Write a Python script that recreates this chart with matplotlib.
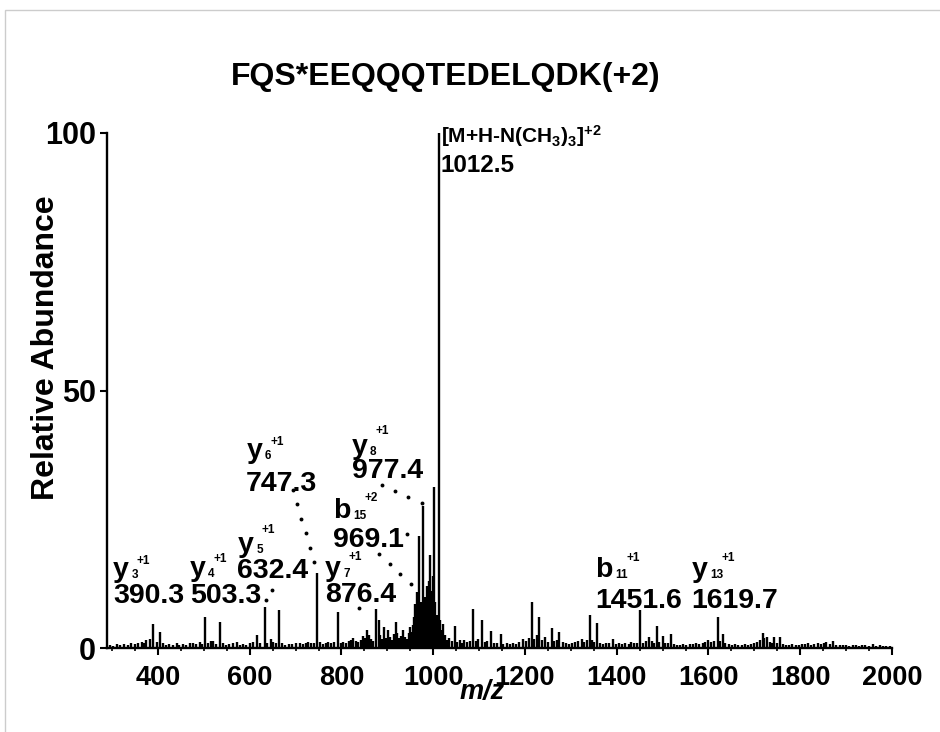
import numpy as np
import matplotlib
matplotlib.use("Agg")
import matplotlib.pyplot as plt
from matplotlib import font_manager
from matplotlib.patches import Rectangle
from matplotlib.ticker import MultipleLocator

plt.rcParams["font.family"] = ["Liberation Sans", "DejaVu Sans"]
plt.rcParams["font.weight"] = "bold"

# narrow face for the precursor annotation, when it is installed
installed = {f.name for f in font_manager.fontManager.ttflist}
narrow = "Liberation Sans Narrow" if "Liberation Sans Narrow" in installed else "Liberation Sans"
plt.rcParams["mathtext.fontset"] = "custom"
plt.rcParams["mathtext.rm"] = narrow + ":bold"
plt.rcParams["mathtext.it"] = narrow + ":bold"
plt.rcParams["mathtext.bf"] = narrow + ":bold"

title = "FQS*EEQQQTEDELQDK(+2)"

# centroided MS/MS peaks: m/z and relative abundance (%)
mz = [
    295, 302, 310, 318, 326, 334, 341, 349, 356, 364.5, 370, 375, 382.6, 390.3,
    397, 404, 411, 418, 425, 432, 440.6, 447, 455, 462, 469, 476, 483, 491.5,
    497, 503.3, 510, 515, 520.6, 527, 535, 542, 549, 556, 563, 571.5, 578, 585,
    592, 600, 607, 615, 622, 632.4, 638, 645.6, 651, 657, 664.4, 671, 678, 685,
    692, 700, 709.5, 716, 722, 727, 734, 741, 747.3, 754, 760, 766, 771, 778,
    784, 791.6, 798, 804, 810, 816, 821, 825.7, 831, 836, 842, 847, 851, 855,
    859, 864, 869, 876.4, 881, 885, 889, 893, 897, 902, 906, 910, 914, 918,
    922, 926, 930, 935, 939, 943, 947, 950, 953, 956, 958, 961, 964, 966.5,
    969.1, 971.5, 974, 977.4, 980, 983, 986, 989, 991, 993, 996, 999, 1002,
    1005, 1008, 1010, 1012.5, 1015, 1018, 1022, 1026, 1030, 1035, 1040, 1047,
    1052, 1058, 1062, 1067, 1073, 1080, 1087, 1093, 1098, 1105.5, 1112, 1118,
    1127, 1133, 1140, 1147, 1153, 1160, 1167, 1174, 1181, 1188, 1196, 1203,
    1208, 1214.5, 1220, 1226, 1231, 1237, 1243.5, 1250, 1258, 1264, 1269, 1275,
    1282, 1289, 1295, 1302, 1309, 1316, 1323.5, 1329, 1335, 1341.6, 1347, 1351,
    1357.5, 1364, 1370, 1377, 1384, 1391, 1398, 1405, 1412, 1419, 1426, 1432,
    1438, 1444, 1451.6, 1458, 1464, 1471, 1477, 1482, 1487, 1493, 1500, 1506,
    1511, 1517.5, 1524, 1531, 1538, 1545, 1552, 1559, 1566, 1573, 1580, 1587,
    1593, 1599.5, 1606, 1612, 1619.7, 1625, 1631, 1637, 1644, 1651, 1658, 1665,
    1672, 1679, 1686, 1693, 1700, 1706, 1712, 1718, 1722, 1727, 1733, 1738,
    1743, 1749, 1755.7, 1762, 1769, 1776, 1783, 1790, 1797, 1804, 1811, 1817,
    1824, 1831, 1838, 1845, 1851, 1857, 1864, 1872, 1879, 1886, 1893, 1900,
    1907, 1914, 1921, 1928, 1935, 1942, 1950, 1959, 1966, 1973, 1980, 1988,
    1995,
]
abundance = [
    0.6, 0.4, 0.7, 0.5, 0.8, 0.6, 0.9, 0.7, 1.0, 1.2, 1.0, 1.5, 1.7, 4.7,
    1.2, 3.2, 0.9, 0.6, 0.8, 0.5, 0.9, 0.6, 0.8, 0.5, 0.9, 1.0, 0.7, 1.1,
    0.8, 6.1, 0.9, 1.4, 1.3, 0.8, 5.1, 0.9, 0.6, 0.7, 0.9, 1.1, 0.6, 0.8,
    0.6, 1.0, 1.1, 2.5, 0.9, 8.0, 1.0, 1.8, 1.2, 0.9, 7.4, 0.9, 0.6, 0.8,
    0.7, 0.9, 0.9, 0.8, 1.0, 1.2, 1.0, 0.9, 14.6, 1.1, 0.8, 1.0, 1.2, 0.9,
    1.1, 6.9, 1.0, 1.2, 0.9, 1.4, 1.6, 1.9, 1.4, 1.1, 1.6, 2.3, 2.0, 3.5,
    2.6, 1.8, 1.4, 7.5, 5.4, 2.5, 1.8, 4.1, 1.9, 3.5, 2.1, 1.6, 2.8, 5.1,
    3.0, 1.9, 2.3, 3.4, 2.2, 1.8, 2.9, 4.1, 3.2, 4.5, 6.0, 8.5, 10.9, 6.0,
    21.7, 7.5, 9.0, 27.5, 8.5, 10.0, 12.0, 9.5, 13.0, 18.0, 11.0, 14.0, 31.3,
    9.0, 6.5, 5.0, 100.0, 5.5, 3.5, 4.7, 2.5, 1.6, 2.0, 1.4, 4.3,
    1.2, 1.6, 1.0, 1.6, 1.1, 1.3, 7.5, 1.4, 1.8, 5.4, 1.1, 1.3,
    3.3, 1.0, 0.9, 2.8, 0.8, 0.9, 0.7, 1.0, 0.8, 1.2, 1.7, 1.4,
    2.0, 9.0, 1.8, 2.5, 6.0, 1.5, 2.2, 1.2, 3.8, 1.3, 1.6, 3.2,
    1.1, 1.0, 0.8, 0.9, 1.1, 1.4, 1.7, 1.2, 1.6, 6.4, 1.5, 1.1,
    4.8, 1.0, 0.8, 0.9, 1.0, 1.7, 0.8, 0.9, 0.7, 1.0, 0.8, 1.2,
    1.0, 0.9, 7.4, 1.0, 1.3, 2.2, 1.4, 1.0, 4.3, 1.2, 2.3, 0.9,
    1.0, 2.7, 0.7, 0.6, 0.5, 0.7, 0.6, 0.8, 0.7, 0.9, 0.8, 1.0,
    1.2, 1.6, 1.1, 1.3, 6.1, 1.4, 2.8, 1.0, 0.8, 0.6, 0.7, 0.5,
    0.6, 0.8, 0.6, 0.7, 0.9, 1.2, 1.6, 3.0, 2.0, 2.1, 1.2, 0.9,
    2.2, 1.0, 2.1, 0.8, 0.6, 0.5, 0.7, 0.5, 0.6, 0.8, 0.7, 0.9,
    0.6, 0.8, 0.9, 0.7, 1.0, 1.1, 0.8, 1.4, 0.6, 0.5, 0.6, 0.5,
    0.4, 0.5, 0.6, 0.4, 0.5, 0.6, 0.4, 0.7, 0.4, 0.5, 0.3, 0.4,
    0.3,
]

# assigned fragment ions
ion_type = ["y", "y", "y", "y", "y", "b", "y", "b", "y"]
ion_index = ["3", "4", "5", "6", "7", "15", "8", "11", "13"]
ion_charge = ["+1", "+1", "+1", "+1", "+1", "+2", "+1", "+1", "+1"]
ion_mz = [390.3, 503.3, 632.4, 747.3, 876.4, 969.1, 977.4, 1451.6, 1619.7]

precursor_label = "[M+H-N(CH$_3$)$_3$]$^{+2}$"
precursor_mz = 1012.5

fig = plt.figure(figsize=(9.4, 7.32), dpi=100)
ax = fig.add_axes([107 / 940, 84 / 732, 785 / 940, 515 / 732])

ax.vlines(mz, 0, abundance, color="black", lw=1.7)

ax.set_xlim(289, 2000)
ax.set_ylim(0, 100)
for s in ["top", "right"]:
    ax.spines[s].set_visible(False)
for s in ["left", "bottom"]:
    ax.spines[s].set_linewidth(1.7)

ax.xaxis.set_major_locator(MultipleLocator(200))
ax.xaxis.set_minor_locator(MultipleLocator(50))
ax.set_yticks([0, 50, 100])
ax.tick_params(axis="both", which="major", direction="out", length=5, width=1.5)
ax.tick_params(axis="x", which="minor", direction="out", length=2.5, width=1.2)
ax.tick_params(axis="x", which="major", pad=7, labelsize=19.5)
ax.tick_params(axis="y", which="major", pad=3, labelsize=22)
for lab in ax.get_xticklabels() + ax.get_yticklabels():
    lab.set_fontweight("bold")

ax.set_ylabel("Relative Abundance", fontsize=23, fontweight="bold", va="center")
ax.yaxis.set_label_coords(-0.078, 0.583)
ax.text(0.478, -0.086, "m/z", transform=ax.transAxes, ha="center", va="center",
        fontsize=19.5, fontweight="bold", style="italic")

fig.text(0.474, 0.884, title, ha="center", va="baseline", fontsize=23,
         fontweight="bold")

# precursor annotation next to the base peak
pre_size = 17 if narrow != "Liberation Sans" else 15
ax.annotate(precursor_label, xy=(precursor_mz, 98.0), xytext=(2, 0),
            textcoords="offset pixels", fontsize=pre_size, fontweight="bold",
            family=[narrow, "DejaVu Sans"], va="baseline", ha="left")
ax.annotate("%.1f" % precursor_mz, xy=(precursor_mz, 92.4), xytext=(2, 0),
            textcoords="offset pixels", fontsize=17.5, fontweight="bold",
            va="baseline", ha="left")

# ion name (x, y) and value (x, y) anchor points, data units
label_xy = [
    (302.6, 13.8, 302.6, 8.7),
    (469.7, 13.9, 469.7, 8.7),
    (575.0, 18.7, 571.5, 13.5),
    (593.3, 36.8, 591.8, 30.4),
    (764.0, 14.0, 764.0, 9.0),
    (782.1, 25.2, 780.7, 19.7),
    (822.2, 37.7, 822.2, 33.0),
    (1352.5, 13.8, 1352.5, 7.7),
    (1563.3, 13.8, 1563.3, 7.7),
]
sup_rise = [13, 14, 19, 13, 16, 17, 20, 16, 16]
name_size = 20.5
value_size = 20.5
small_size = 8.5

for i in range(len(ion_mz)):
    lx, ly, vx, vy = label_xy[i]
    ax.text(lx, ly, ion_type[i], fontsize=name_size, fontweight="bold",
            ha="left", va="baseline")
    adv = 0.556 if ion_type[i] == "y" else 0.611
    sub_dx = adv * name_size * 100 / 72 + 2.5
    ax.annotate(ion_index[i], xy=(lx, ly), xytext=(sub_dx, -1),
                textcoords="offset pixels", fontsize=small_size,
                fontweight="bold", ha="left", va="baseline")
    sup_dx = sub_dx + 6.6 * len(ion_index[i]) - 1.5
    ax.annotate(ion_charge[i], xy=(lx, ly), xytext=(sup_dx, sup_rise[i]),
                textcoords="offset pixels", fontsize=small_size,
                fontweight="bold", ha="left", va="baseline")
    ax.text(vx, vy, "%.1f" % ion_mz[i], fontsize=value_size, fontweight="bold",
            ha="left", va="baseline")

# dotted leaders from labels to their peaks: start, end, number of dots
leaders = [
    ((694.2, 30.7), (740.0, 16.7), 6),
    ((648.5, 11.3), (635.4, 9.3), 2),
    ((838.8, 7.7), (838.8, 7.7), 1),
    ((882.3, 18.2), (950.8, 12.4), 4),
    ((943.4, 22.1), (943.4, 22.1), 1),
    ((887.6, 31.7), (974.8, 28.2), 4),
]
for (x0, y0), (x1, y1), n in leaders:
    ax.plot(np.linspace(x0, x1, n), np.linspace(y0, y1, n), "o", color="black",
            ms=2.8, mew=0, clip_on=False)

# thin frame around the panel
fig.patches.append(Rectangle((5 / 940, -0.1), 1.2, (722 / 732) + 0.1,
                             transform=fig.transFigure, fill=False,
                             edgecolor="#cccccc", lw=1))

fig.savefig("out.png", dpi=100)
